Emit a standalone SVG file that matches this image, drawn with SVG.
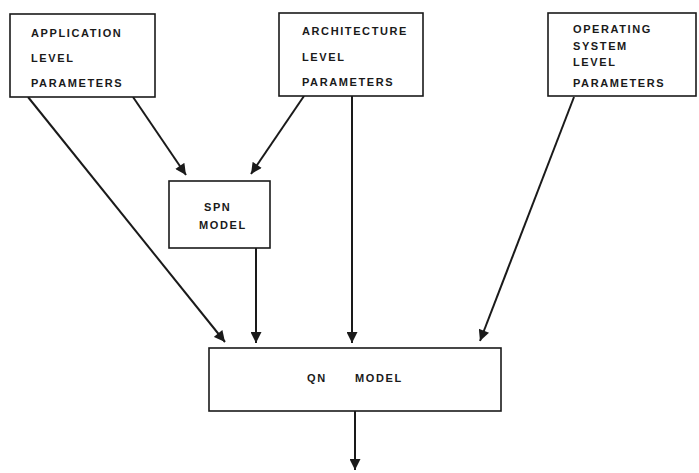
<svg xmlns="http://www.w3.org/2000/svg" width="699" height="473" viewBox="0 0 699 473">
<style>
.box{fill:#fff;stroke:#1a1a1a;stroke-width:1.6}
.t{font-family:"Liberation Sans",Arial,sans-serif;font-weight:bold;font-size:11px;fill:#1a1a1a;letter-spacing:1.6px}
.c{stroke:#1a1a1a;stroke-width:2;fill:none;marker-end:url(#ah)}
</style>
<defs>
<marker id="ah" viewBox="0 0 10 10" refX="10" refY="5" markerWidth="6" markerHeight="5.5" orient="auto" markerUnits="strokeWidth">
<path d="M0,0 L10,5 L0,10 Z" fill="#1a1a1a"/>
</marker>
</defs>
<rect width="699" height="473" fill="#fff"/>
<g id="connectors">
<line class="c" x1="28" y1="97" x2="225" y2="342"/>
<line class="c" x1="133" y1="97" x2="186" y2="175"/>
<line class="c" x1="304" y1="96" x2="251" y2="174"/>
<line class="c" x1="352" y1="96" x2="352" y2="343"/>
<line class="c" x1="256" y1="248" x2="256" y2="343"/>
<line class="c" x1="574" y1="97" x2="480" y2="341"/>
<line class="c" x1="355" y1="411" x2="355" y2="470"/>
</g>
<g id="app">
<rect class="box" x="10" y="14" width="145" height="83"/>
<text class="t" x="31" y="37">APPLICATION</text>
<text class="t" x="31" y="62">LEVEL</text>
<text class="t" x="31" y="87">PARAMETERS</text>
</g>
<g id="arch">
<rect class="box" x="279" y="13" width="144" height="83"/>
<text class="t" x="302" y="35">ARCHITECTURE</text>
<text class="t" x="302" y="61">LEVEL</text>
<text class="t" x="302" y="86">PARAMETERS</text>
</g>
<g id="os">
<rect class="box" x="548" y="13" width="148" height="83"/>
<text class="t" x="573" y="33">OPERATING</text>
<text class="t" x="573" y="50">SYSTEM</text>
<text class="t" x="573" y="66">LEVEL</text>
<text class="t" x="573" y="87">PARAMETERS</text>
</g>
<g id="spn">
<rect class="box" x="169" y="181" width="101" height="67"/>
<text class="t" x="204" y="211" letter-spacing="3">SPN</text>
<text class="t" x="199" y="229">MODEL</text>
</g>
<g id="qn">
<rect class="box" x="209" y="348" width="292" height="63"/>
<text class="t" x="307" y="382">QN</text>
<text class="t" x="355" y="382" letter-spacing="2">MODEL</text>
</g>
</svg>
